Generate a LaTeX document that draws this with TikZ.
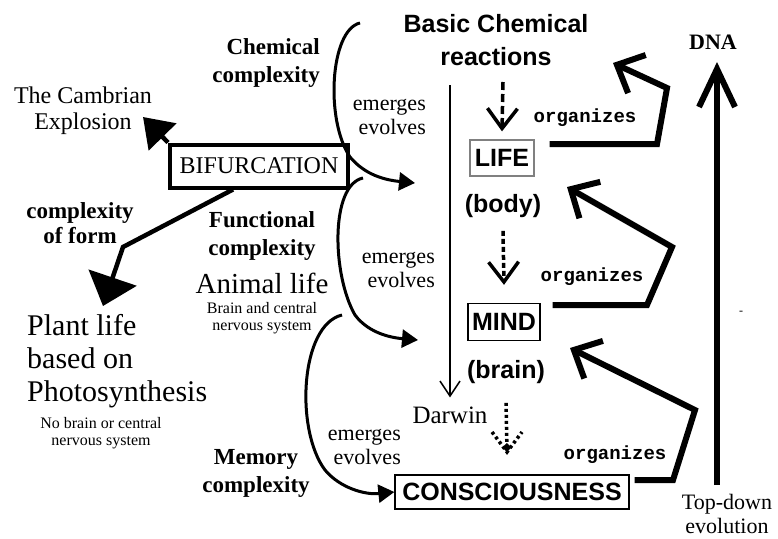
\documentclass[tikz,border=0pt]{standalone}
\usepackage{fontspec}
\setmainfont{Liberation Serif}
\setsansfont{Liberation Sans}
\setmonofont{Liberation Mono}
\usetikzlibrary{arrows.meta}

\begin{document}
\begin{tikzpicture}[x=1pt,y=-1pt,every node/.style={inner sep=0pt,align=center},
	sans/.style={font=\fontsize{25}{33}\selectfont\sffamily\bfseries},
	stage/.style={sans,draw,line width=1.3pt,minimum height=36pt},
	lbl/.style={font=\fontsize{23}{28}\selectfont\bfseries},
	evo/.style={font=\fontsize{22}{24}\selectfont,align=right,anchor=east},
	tiny/.style={font=\fontsize{16}{17}\selectfont},
	org/.style={font=\fontsize{19}{20}\selectfont\ttfamily\bfseries},
	orgline/.style={line width=6pt,-{Straight Barb[length=22pt,width=42pt]}},
	dasharrow/.style={line width=3.5pt,-{Straight Barb[length=20pt,width=30pt]}},
	curve/.style={line width=3pt,-{Triangle[length=16pt,width=18pt]}},
	fat/.style={line width=4.5pt}]
\useasboundingbox (0,0) rectangle (778,538);

\node[sans] (bcr) at (496,40) {Basic Chemical\\reactions};
\node[stage,draw=gray,minimum width=64pt] (life) at (502,158) {LIFE};
\node[sans] (body) at (503,206) {(body)};
\node[stage,minimum width=72pt,minimum height=37pt] (mind) at (504,322) {MIND};
\node[sans] (brain) at (506,372) {(brain)};
\node[stage,minimum width=234pt,minimum height=34pt] (consc) at (512,492) {CONSCIOUSNESS};
\node[draw,line width=4pt,minimum width=178pt,minimum height=43pt,font=\fontsize{24}{24}\selectfont] (bif) at (259,166) {BIFURCATION};

\node[lbl,align=right,anchor=east] (chem) at (320,63) {Chemical\\complexity};
\node[font=\fontsize{24}{26}\selectfont] (camb) at (83,111) {The Cambrian\\Explosion};
\node[font=\fontsize{23}{25}\selectfont\bfseries] (form) at (80,223) {complexity\\of form};
\node[lbl] (func) at (262,236) {Functional\\complexity};
\node[font=\fontsize{29}{29}\selectfont] (animal) at (262,283) {Animal life};
\node[tiny] (cns) at (262,318) {Brain and central\\nervous system};
\node[font=\fontsize{30}{33}\selectfont,align=left,anchor=west] (plant) at (27,361) {Plant life\\based on\\Photosynthesis};
\node[tiny] (nocns) at (101,433) {No brain or central\\nervous system};
\node[lbl] (mem) at (256,473) {Memory\\complexity};
\node[evo] (em1) at (426,117) {emerges\\evolves};
\node[evo] (em2) at (435,270) {emerges\\evolves};
\node[evo] (em3) at (401,447) {emerges\\evolves};
\node[font=\fontsize{25}{25}\selectfont] (darwin) at (450,415) {Darwin};
\node[org] (org1) at (585,118) {organizes};
\node[org] (org2) at (592,277) {organizes};
\node[org] (org3) at (615,455) {organizes};
\node[font=\fontsize{22}{22}\selectfont\bfseries] (dna) at (713,42) {DNA};
\node[font=\fontsize{22}{24}\selectfont] (topdown) at (727,514) {Top-down\\evolution};
\node[font=\fontsize{12}{12}\selectfont] (stray) at (741,313) {-};

\coordinate (dtop) at (450,85);
\coordinate (d1) at (503,82);
\coordinate (e3) at (507,452);
\coordinate (c1) at (360,23);
\coordinate (c2) at (363,178);
\coordinate (c3) at (342,315);
\coordinate (cambtip) at (143,117);
\coordinate (planttip) at (103,306);
\coordinate (tdbot) at (717,485);
\coordinate (tdtop) at (717,62);

\draw[line width=1.5pt,-{Straight Barb[length=15pt,width=20pt]}] (dtop) -- ([yshift=9pt]darwin.north);
\draw[dasharrow,dash pattern=on 8pt off 4pt] (d1) -- ([yshift=8pt]life.north);
\draw[dasharrow,dash pattern=on 5pt off 3pt] ([yshift=-13pt]body.south) -- ([yshift=18pt]mind.north);
\draw[line width=3.5pt,dash pattern=on 3pt off 3pt,-{Diamond[length=9pt,width=9pt]}] ([yshift=-19pt]brain.south) -- (e3);
\draw[line width=3.5pt,dash pattern=on 3pt off 3pt] (e3) ++(-15,-20) -- (e3) -- ++(15,-20);

\draw[curve] (c1) .. controls (330,30) and (325,120) .. (350,157) .. controls (365,175) and (385,180) .. (415,183);
\draw[curve] (c2) .. controls (330,185) and (332,275) .. (355,315) .. controls (370,335) and (395,338) .. (418,340);
\draw[curve] (c3) .. controls (300,325) and (295,430) .. (325,470) .. controls (340,488) and (365,495) .. (consc.west);

\draw[fat,-{Triangle[length=28pt,width=38pt]}] (bif.north west) -- (cambtip);
\draw[fat,-{Triangle[length=30pt,width=50pt]}] ([xshift=-26pt]bif.south) -- (123,247) -- (planttip);

\draw[orgline] ([shift={(15,-14)}]life.east) -- (657,144) -- (667,88) -- (613,63);
\draw[orgline] ([shift={(12,-17)}]mind.east) -- (647,305) -- (672,247) -- (567,187);
\draw[orgline] ([shift={(5,-12)}]consc.east) -- (673,480) -- (695,410) -- (570,348);
\draw[line width=6pt,-{Straight Barb[length=38pt,width=36pt]}] (tdbot) -- (tdtop);
\end{tikzpicture}
\end{document}
